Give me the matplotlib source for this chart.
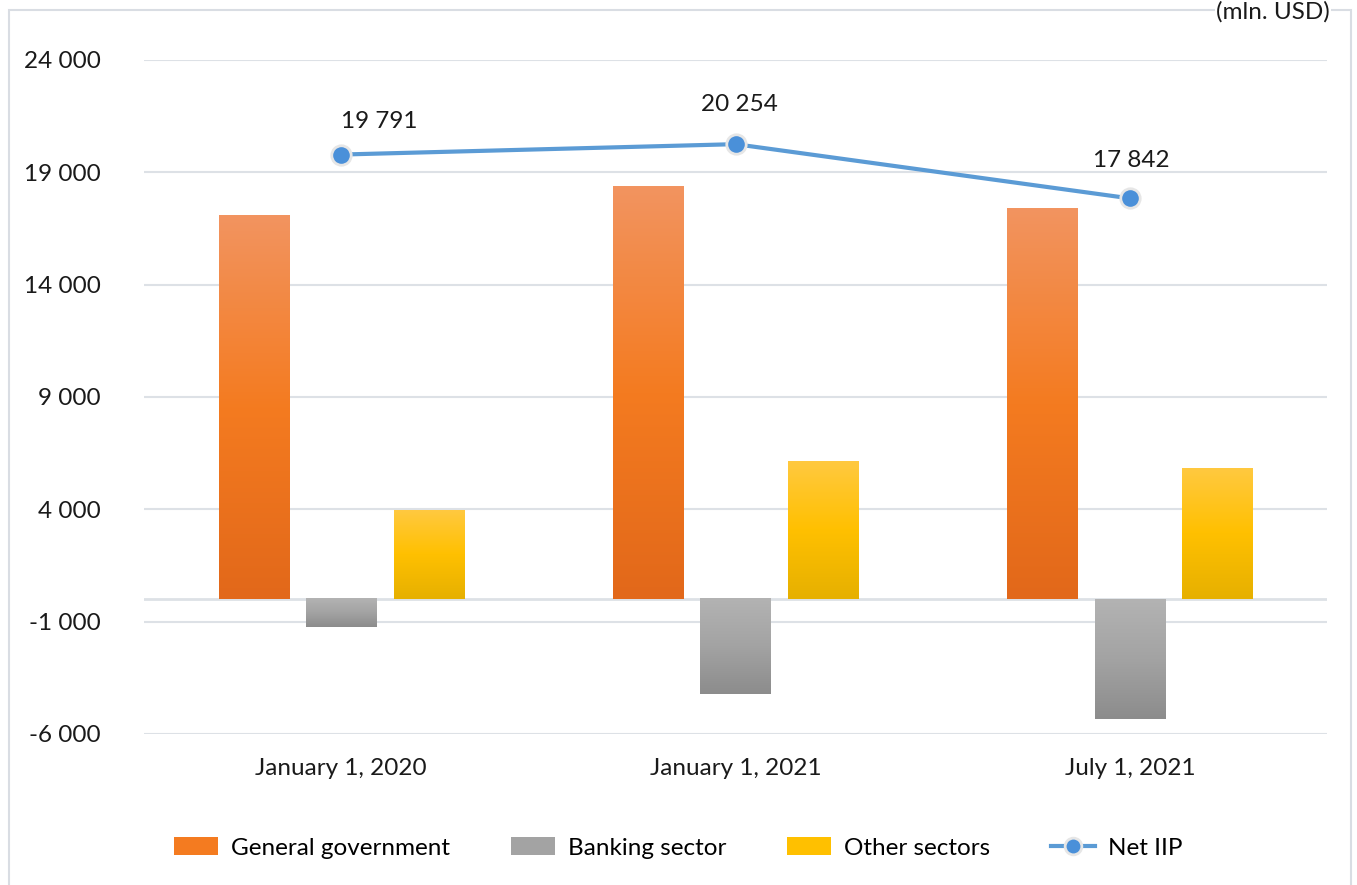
import numpy as np
import matplotlib
matplotlib.use("Agg")
from matplotlib import pyplot as plt
from matplotlib.colors import LinearSegmentedColormap
from matplotlib.patches import Rectangle, Patch
from matplotlib.lines import Line2D

plt.rcParams['font.family'] = ['Lato', 'DejaVu Sans']

# data (mln. USD)
dates = ["January 1, 2020", "January 1, 2021", "July 1, 2021"]
general_government = [17050, 18380, 17360]
banking_sector = [-1250, -4230, -5340]
other_sectors = [3920, 6100, 5790]
net_iip = [19791, 20254, 17842]
net_labels = ["19 791", "20 254", "17 842"]
yticks = [-6000, -1000, 4000, 9000, 14000, 19000, 24000]

# gradients top -> bottom
grad_orange = ["#f29460", "#f47b20", "#e2681a"]
grad_gray = ["#b3b3b3", "#a3a3a3", "#8c8c8c"]
grad_yellow = ["#ffc940", "#ffc000", "#e6b000"]

FS = 17.5

fig = plt.figure(figsize=(13.57, 8.85), dpi=100)
ax = fig.add_axes([144/1357, 1 - 734/885, (1327-144)/1357, (734-60)/885])

x = np.arange(len(dates))
w = 0.178
off = 0.222


def gradient_bars(bars, colors):
    cmap = LinearSegmentedColormap.from_list("g", colors[::-1])
    for b in bars:
        x0, y0 = b.get_x(), b.get_y()
        x1, y1 = x0 + b.get_width(), y0 + b.get_height()
        lo, hi = min(y0, y1), max(y0, y1)
        grad = np.linspace(1, 0, 256).reshape(-1, 1)
        ax.imshow(grad, extent=[x0, x1, lo, hi], aspect='auto', cmap=cmap,
                  vmin=0, vmax=1, zorder=2, interpolation='bilinear')
        b.set_visible(False)


b1 = ax.bar(x - off, general_government, w, color=grad_orange[1], zorder=2)
b2 = ax.bar(x, banking_sector, w, color=grad_gray[1], zorder=2)
b3 = ax.bar(x + off, other_sectors, w, color=grad_yellow[1], zorder=2)
gradient_bars(b1, grad_orange)
gradient_bars(b2, grad_gray)
gradient_bars(b3, grad_yellow)

ax.plot(x, net_iip, color="#5b9bd5", linewidth=3, marker='o', markersize=14,
        markerfacecolor="#4a90d9", markeredgecolor="#e6e6e6", markeredgewidth=2,
        zorder=4)

# labels above the Net IIP points (first one was nudged right in the original)
label_dx = [0, 3, 1]
label_dy = [16, 21, 20]
label_ha = ['left', 'center', 'center']
for i, v in enumerate(net_iip):
    ax.annotate(net_labels[i], (x[i], v), xytext=(label_dx[i], label_dy[i]),
                textcoords='offset points', ha=label_ha[i], va='bottom',
                fontsize=FS, color='#1a1a1a')

ax.set_xlim(-0.5, 2.5)
ax.set_ylim(-6000, 24000)
ax.set_yticks(yticks)
ax.set_yticklabels([f"{t:,}".replace(",", " ") for t in yticks])
ax.set_xticks(x)
ax.set_xticklabels(dates)
ax.grid(axis='y', color='#dde1e6', linewidth=1.5, zorder=0)
ax.axhline(0, color='#dde1e6', linewidth=2, zorder=1)
for s in ax.spines.values():
    s.set_visible(False)
ax.tick_params(axis='both', length=0, labelsize=FS, colors='#1a1a1a')
ax.tick_params(axis='y', pad=31)
ax.tick_params(axis='x', pad=17)

handles = [Patch(facecolor=grad_orange[1], label="General government"),
           Patch(facecolor=grad_gray[1], label="Banking sector"),
           Patch(facecolor=grad_yellow[1], label="Other sectors"),
           Line2D([0], [0], color="#5b9bd5", linewidth=3, marker='o', markersize=12,
                  markerfacecolor="#4a90d9", markeredgecolor="#e6e6e6",
                  markeredgewidth=2, label="Net IIP")]
fig.legend(handles=handles, loc='center', bbox_to_anchor=(0.5, 1 - 848/885),
           ncol=4, frameon=False, fontsize=FS, handlelength=1.8,
           handleheight=0.7, columnspacing=2.5, handletextpad=0.55)

fig.patches.append(Rectangle((9/1357, -0.05), (1351-9)/1357, 1.05 - 10/885,
                             transform=fig.transFigure, fill=False,
                             edgecolor='#d9dde3', linewidth=1.5))
fig.text(1330/1357, 1 - 1/885, "(mln. USD)", ha='right', va='top',
         fontsize=FS, color='#1a1a1a',
         bbox=dict(facecolor='white', edgecolor='none', pad=1))

fig.savefig("out.png", dpi=100)
